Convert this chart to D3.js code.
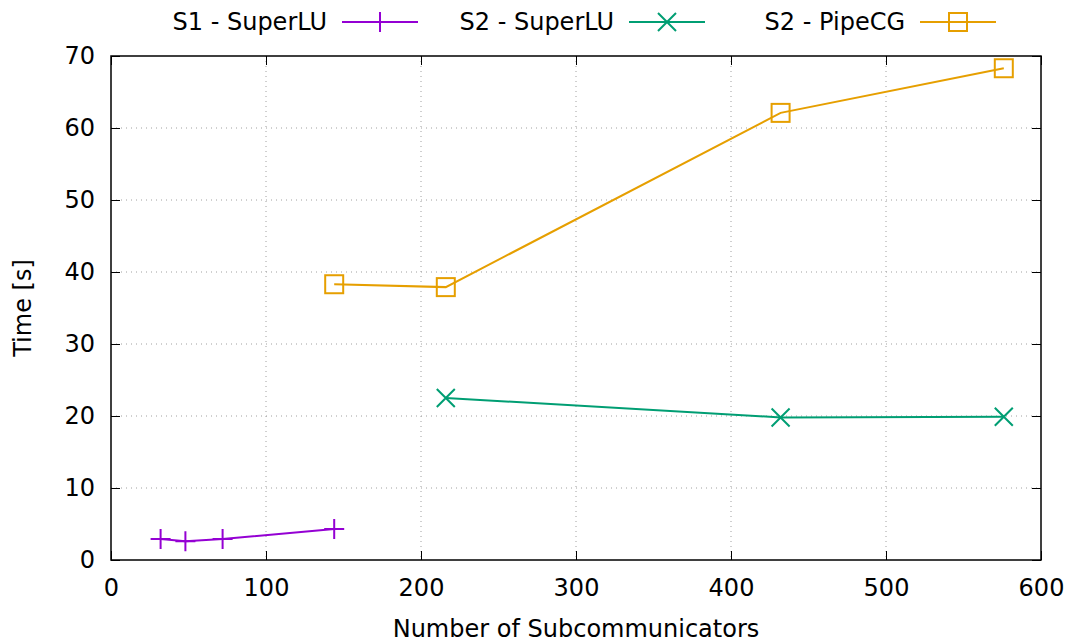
<!DOCTYPE html>
<html lang="en">
<head>
<meta charset="utf-8">
<title>Time vs subcommunicators</title>
<script src="https://cdn.jsdelivr.net/npm/d3@7"></script>
<style>
  body { margin: 0; background: #fff; }
  svg text { font-family: "DejaVu Sans", sans-serif; fill: #000; }
</style>
</head>
<body>
<div id="vis-container"></div>
<script>
// data
var s1SuperLU_x = [32, 48, 72, 144];
var s1SuperLU_y = [2.9, 2.6, 2.9, 4.3];
var s2SuperLU_x = [216, 432, 576];
var s2SuperLU_y = [22.5, 19.8, 19.9];
var s2PipeCG_x = [144, 216, 432, 576];
var s2PipeCG_y = [38.3, 37.9, 62.1, 68.3];
var xTicks = [0, 100, 200, 300, 400, 500, 600];
var yTicks = [0, 10, 20, 30, 40, 50, 60, 70];
var seriesNames = ["S1 - SuperLU", "S2 - SuperLU", "S2 - PipeCG"];

var W = 1074, H = 643;
var margin = { top: 56, right: 33, bottom: 83, left: 111 },
    width = W - margin.left - margin.right,
    height = H - margin.top - margin.bottom;
var fs = "24px";

var x = d3.scaleLinear().domain([0, 600]).range([0, width]);
var y = d3.scaleLinear().domain([0, 70]).range([height, 0]);

var series = [
  { name: seriesNames[0], xs: s1SuperLU_x, ys: s1SuperLU_y, color: "#9400d3", marker: "plus" },
  { name: seriesNames[1], xs: s2SuperLU_x, ys: s2SuperLU_y, color: "#009e73", marker: "cross" },
  { name: seriesNames[2], xs: s2PipeCG_x, ys: s2PipeCG_y, color: "#e69f00", marker: "square" }
];

var svg = d3.select("#vis-container").append("svg")
    .attr("width", W).attr("height", H);
var g = svg.append("g")
    .attr("transform", "translate(" + margin.left + "," + margin.top + ")");

// grid
g.selectAll(".gx").data(xTicks.slice(1, -1)).enter().append("line")
  .attr("x1", function(d) { return x(d); }).attr("x2", function(d) { return x(d); })
  .attr("y1", 0).attr("y2", height)
  .style("stroke", "#a0a0a0").style("stroke-width", 1).style("stroke-dasharray", "1,4");
g.selectAll(".gy").data(yTicks.slice(1, -1)).enter().append("line")
  .attr("y1", function(d) { return y(d); }).attr("y2", function(d) { return y(d); })
  .attr("x1", 0).attr("x2", width)
  .style("stroke", "#a0a0a0").style("stroke-width", 1).style("stroke-dasharray", "1,4");

// axes (ticks inward, mirrored)
var tk = 9;
var axB = g.append("g").attr("transform", "translate(0," + height + ")")
  .call(d3.axisBottom(x).tickValues(xTicks).tickSizeInner(-tk).tickSizeOuter(0).tickPadding(19));
var axT = g.append("g")
  .call(d3.axisTop(x).tickValues(xTicks).tickSizeInner(-tk).tickSizeOuter(0).tickFormat(""));
var axL = g.append("g")
  .call(d3.axisLeft(y).tickValues(yTicks).tickSizeInner(-tk).tickSizeOuter(0).tickPadding(16));
var axR = g.append("g").attr("transform", "translate(" + width + ",0)")
  .call(d3.axisRight(y).tickValues(yTicks).tickSizeInner(-tk).tickSizeOuter(0).tickFormat(""));
[axB, axT, axL, axR].forEach(function(a) {
  a.select(".domain").remove();
  a.selectAll("line").style("stroke", "#000").style("stroke-width", 1);
  a.selectAll("text").style("font-size", fs).style("font-family", "DejaVu Sans, sans-serif");
});

g.append("rect").attr("x", 0).attr("y", 0).attr("width", width).attr("height", height)
  .style("fill", "none").style("stroke", "#000").style("stroke-width", 1.5);

// axis titles
svg.append("text").attr("x", 576).attr("y", 637)
  .attr("text-anchor", "middle").style("font-size", fs).text("Number of Subcommunicators");
svg.append("text").attr("transform", "translate(31," + (margin.top + height / 2) + ") rotate(-90)")
  .attr("text-anchor", "middle").style("font-size", fs).text("Time [s]");

function drawMarker(sel, type, color) {
  if (type === "plus") {
    sel.append("path").attr("d", "M-10,0H10M0,-10V10");
  } else if (type === "cross") {
    sel.append("path").attr("d", "M-9,-9L9,9M-9,9L9,-9");
  } else {
    sel.append("rect").attr("x", -9).attr("y", -9).attr("width", 18).attr("height", 18);
  }
  sel.selectAll("path, rect").style("stroke", color).style("stroke-width", 2).style("fill", "none");
}

var line = d3.line().x(function(d) { return x(d[0]); }).y(function(d) { return y(d[1]); });

series.forEach(function(s) {
  var pts = s.xs.map(function(v, i) { return [v, s.ys[i]]; });
  g.append("path").datum(pts).attr("d", line)
    .style("fill", "none").style("stroke", s.color).style("stroke-width", 2);
  pts.forEach(function(p) {
    var m = g.append("g").attr("transform", "translate(" + x(p[0]) + "," + y(p[1]) + ")");
    drawMarker(m, s.marker, s.color);
  });
});

// legend
var legendRight = [327, 614, 905];
series.forEach(function(s, i) {
  var lg = svg.append("g");
  lg.append("text").attr("x", legendRight[i]).attr("y", 30).attr("text-anchor", "end")
    .style("font-size", fs).text(s.name);
  var x0 = legendRight[i] + 15, x1 = x0 + 76;
  lg.append("line").attr("x1", x0).attr("x2", x1).attr("y1", 22).attr("y2", 22)
    .style("stroke", s.color).style("stroke-width", 2);
  var m = lg.append("g").attr("transform", "translate(" + ((x0 + x1) / 2) + ",22)");
  drawMarker(m, s.marker, s.color);
});
</script>
</body>
</html>
